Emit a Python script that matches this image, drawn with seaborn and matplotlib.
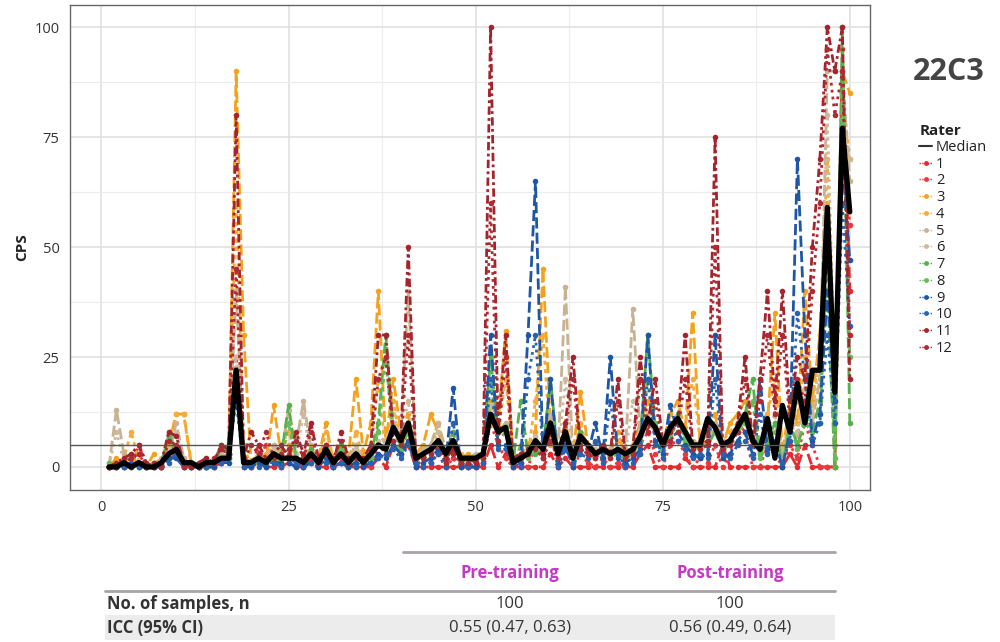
import matplotlib
matplotlib.use("Agg")
import matplotlib.pyplot as plt
from matplotlib.lines import Line2D
from matplotlib.patches import Rectangle
import seaborn as sns
import pandas as pd
import numpy as np

samples = list(range(1, 101))

r1 = [0,0,0,0,5,0,0,0,2,3, 0,0,0,0,0,1,5,25,0,0, 5,0,0,0,1,0,0,2,0,0, 0,1,0,0,0,0,2,0,5,3,
      5,0,0,0,0,0,0,0,0,0, 0,5,0,3,0,0,0,0,0,3, 0,2,0,0,0,0,0,0,0,0, 0,3,5,0,0,0,0,2,0,0,
      0,0,5,0,0,0,0,0,0,0, 0,3,0,5,0,0,0,0,95,40]
r2 = [0,1,0,2,3,0,1,0,5,4, 1,0,0,1,0,2,3,20,1,0, 2,5,1,0,3,1,0,4,0,2, 0,2,0,3,1,0,5,3,10,4,
      8,0,2,1,3,0,2,0,0,0, 1,10,5,2,0,1,0,5,2,8, 0,5,0,3,1,0,2,0,1,0, 2,5,8,3,0,5,6,3,0,2,
      1,5,0,3,10,8,0,0,5,3, 0,5,2,10,5,0,0,0,80,55]
r3 = [0,2,1,3,0,0,3,0,5,12, 12,1,0,0,1,2,3,90,30,1, 2,1,14,3,5,2,1,3,2,10, 1,5,2,20,3,10,40,5,20,8,
      12,3,5,12,8,3,5,2,3,1, 2,15,10,31,2,3,5,8,45,10, 2,10,3,17,5,2,5,3,8,2, 5,10,15,10,5,12,15,8,35,5,
      8,12,5,10,12,15,6,5,10,35, 3,15,10,40,15,30,60,0,90,85]
r4 = [1,0,2,8,1,0,1,0,6,12, 12,0,1,0,0,3,5,60,5,0, 1,3,5,2,8,3,2,5,1,8, 2,3,1,8,2,5,20,3,15,5,
      8,2,3,5,10,2,6,3,1,2, 3,10,8,20,3,2,3,15,30,5, 3,8,2,10,4,3,3,2,6,4, 4,8,12,9,6,10,10,9,20,6,
      5,10,6,8,10,12,8,4,12,20, 2,12,8,25,12,30,70,5,85,70]
r5 = [0,13,3,1,0,1,0,1,3,10, 2,0,1,0,1,2,3,40,2,1, 3,2,5,3,13,5,15,4,2,3, 1,4,2,5,1,3,8,5,10,6,
      40,3,4,5,10,4,8,2,2,3, 3,12,8,10,2,3,4,6,5,12, 3,41,2,8,5,3,5,4,3,3, 36,7,10,8,5,9,12,8,6,5,
      6,10,5,6,8,12,5,4,8,10, 3,10,7,15,10,20,90,90,90,65]
r6 = [0,8,1,0,1,0,0,2,4,8, 1,1,0,2,0,3,2,25,1,0, 2,1,4,2,10,3,12,3,1,5, 2,3,1,4,2,4,6,5,12,7,
      15,2,3,4,8,3,6,2,2,2, 4,14,9,8,1,2,3,7,4,10, 2,20,2,7,5,4,4,3,4,3, 15,8,12,9,5,8,10,7,5,6,
      7,9,6,5,9,10,6,3,9,12, 2,12,8,18,12,25,80,20,75,70]
r7 = [0,0,1,0,0,0,0,1,7,4, 1,0,0,0,1,5,3,22,2,1, 1,0,3,2,14,2,1,4,1,5, 0,5,1,3,1,3,10,30,8,5,
      10,1,3,4,6,3,8,1,2,2, 2,25,8,9,1,15,3,3,4,20, 3,6,2,8,5,3,5,3,4,2, 3,6,30,9,3,8,12,6,4,5,
      5,8,4,6,8,12,20,3,6,10, 0,10,5,10,8,15,40,0,100,10]
r8 = [1,0,0,1,0,0,1,0,8,3, 0,1,0,0,0,4,5,20,1,0, 2,1,2,1,10,2,1,3,0,4, 1,4,0,2,1,2,8,25,6,4,
      8,2,2,3,5,2,6,1,1,1, 2,20,6,8,0,5,2,4,3,10, 2,6,1,6,4,2,4,2,3,2, 3,6,20,10,4,7,10,6,5,4,
      5,8,4,5,8,10,15,2,5,8, 1,10,4,12,8,10,50,2,85,25]
r9 = [0,0,0,0,1,0,0,0,2,2, 0,0,0,0,0,1,1,20,0,0, 1,0,1,1,1,0,0,1,0,2, 0,1,0,1,0,1,3,2,5,3,
      6,0,1,2,4,1,18,0,0,0, 1,30,5,5,0,1,30,65,2,20, 1,5,0,4,3,10,2,25,2,1, 2,4,30,6,3,14,8,5,3,2,
      3,30,2,3,6,8,3,20,4,6, 0,8,70,30,6,12,40,15,70,47]
r10 = [0,0,0,1,0,0,0,0,1,3, 0,0,0,0,1,1,2,15,0,1, 0,1,1,0,2,1,0,1,1,1, 0,1,1,0,1,1,2,3,4,2,
       5,1,0,1,3,0,10,1,0,1, 1,20,4,4,1,0,20,30,3,10, 0,4,1,3,2,6,1,15,3,0, 1,3,20,5,2,10,6,4,2,3,
       2,20,3,2,5,6,2,12,3,5, 1,6,35,20,5,10,30,10,60,32]
r11 = [0,1,2,3,5,1,0,1,8,7, 1,0,1,2,1,5,4,80,2,8, 5,2,3,5,2,8,3,10,2,5, 1,8,2,3,2,5,30,30,8,6,
       50,2,3,4,6,2,4,1,2,1, 3,100,8,30,2,3,4,5,3,8, 3,10,25,5,4,3,5,3,20,3, 4,25,10,20,6,8,10,30,5,5,
       6,75,5,6,10,25,6,20,40,15, 40,12,25,20,50,70,100,90,100,20]
r12 = [0,0,1,2,3,0,1,0,6,5, 0,1,0,1,2,4,3,45,1,5, 3,8,2,3,4,6,2,8,1,3, 2,6,1,2,1,4,20,25,6,5,
       30,2,2,3,5,1,3,1,1,2, 2,60,6,25,1,2,3,4,2,6, 2,8,20,4,3,2,4,2,15,2, 3,20,8,15,5,6,8,20,4,4,
       5,50,4,5,8,20,5,15,30,12, 30,10,20,15,40,60,95,80,90,30]

median = [0,0,1,0,1,0,0,1,3,4, 1,1,0,1,1,2,2,22,1,1, 2,1,3,2,2,2,1,3,1,4, 1,3,1,3,1,3,5,4,9,6,
          10,2,3,4,6,3,6,2,2,2, 3,12,8,9,1,2,3,6,4,10, 3,8,2,7,5,3,4,3,4,3, 4,7,11,9,5,9,11,8,5,5,
          11,9,5,6,9,12,6,4,11,2, 14,8,19,10,22,22,59,17,77,58]

raters = ["1","2","3","4","5","6","7","8","9","10","11","12"]
series = [r1, r2, r3, r4, r5, r6, r7, r8, r9, r10, r11, r12]
colors = ["#E32A2E", "#E8393C", "#F4A21E", "#F5AC3A", "#C8B292", "#CDB99C",
          "#55B24A", "#66BC58", "#1E56A6", "#2A62B0", "#A3242C", "#AE2B34"]
dash_list = [(4, 1.5), (1, 1.5), (4, 1.5), (1.5, 1.5), (4, 1.5), (1, 1.5),
             (4, 1.5), (1.5, 1.5), (4, 1.5), (1, 1.5), (3, 1.2, 1, 1.2), (1, 1.5)]

rows = []
for name, vals in zip(raters, series):
    for s, v in zip(samples, vals):
        rows.append({"Sample": s, "CPS": v, "Rater": name})
df = pd.DataFrame(rows)
med_df = pd.DataFrame({"Sample": samples, "CPS": median})

sns.set_theme(style="whitegrid")
plt.rcParams['font.family'] = ['Open Sans', 'DejaVu Sans']

fig = plt.figure(figsize=(10, 6.42), dpi=100)
ax = fig.add_axes([0.07, 0.237, 0.80, 0.755])

palette = dict(zip(raters, colors))
dashes = dict(zip(raters, dash_list))
sns.lineplot(data=df, x="Sample", y="CPS", hue="Rater", style="Rater",
             palette=palette, dashes=dashes, markers=["o"] * 12, markersize=4,
             markeredgewidth=0, linewidth=2.0, legend=False, ax=ax, hue_order=raters,
             style_order=raters)
sns.lineplot(data=med_df, x="Sample", y="CPS", color="black", linewidth=3.8, ax=ax)
ax.axhline(5, color="#555555", linewidth=1.0, zorder=5)

ax.set_xlim(-4.2, 102.7)
ax.set_ylim(-5.2, 105)
ax.set_xticks([0, 25, 50, 75, 100])
ax.set_yticks([0, 25, 50, 75, 100])
ax.set_xticks([12.5, 37.5, 62.5, 87.5], minor=True)
ax.set_yticks([12.5, 37.5, 62.5, 87.5], minor=True)
ax.grid(which="major", color="#e0e0e0", linewidth=1.2)
ax.grid(which="minor", color="#ececec", linewidth=0.8)
ax.set_facecolor("white")
for sp in ax.spines.values():
    sp.set_color("#666666")
    sp.set_linewidth(1.0)
ax.tick_params(axis="both", which="major", labelsize=10.5, colors="#333333",
               length=4, width=0.8, color="#555555", direction="out")
ax.tick_params(axis="both", which="minor", length=0)
ax.tick_params(axis="x", pad=3)
ax.set_xlabel("")
ax.set_ylabel("CPS", fontsize=11, fontweight="bold", color="#222222", labelpad=4)

# Title on right
fig.text(0.949, 0.888, "22C3", fontsize=22, fontweight="bold", color="#444444",
         ha="center", va="center")

# Legend
handles = [Line2D([0], [0], color="#333333", linewidth=1.5, label="Median")]
for name, c in zip(raters, colors):
    handles.append(Line2D([0], [0], color=c, linewidth=1.0, linestyle=(0, (1, 1)),
                          marker="o", markersize=3.5, markeredgewidth=0, label=name))
leg = fig.legend(handles=handles, loc="upper left", bbox_to_anchor=(0.912, 0.818),
                 frameon=False, title="Rater", fontsize=10.5, handlelength=0.9,
                 handletextpad=0.25, labelspacing=0.12, borderpad=0, alignment="left")
leg.get_title().set_fontweight("bold")
leg.get_title().set_fontsize(11)
leg.get_title().set_color("#222222")
for t in leg.get_texts():
    t.set_color("#222222")

# Table below
tfont = ['Liberation Sans Narrow', 'Open Sans', 'DejaVu Sans']
fig.add_artist(Line2D([0.403, 0.835], [0.140, 0.140], color="#aaa2aa", linewidth=2.0))
fig.text(0.51, 0.107, "Pre-training", color="#C43AC4", fontsize=12, fontweight="bold",
         ha="center", va="center", family=tfont)
fig.text(0.73, 0.107, "Post-training", color="#C43AC4", fontsize=12, fontweight="bold",
         ha="center", va="center", family=tfont)
fig.add_artist(Line2D([0.105, 0.835], [0.0794, 0.0794], color="#aaa2aa", linewidth=2.0))
fig.add_artist(Rectangle((0.105, 0.003), 0.73, 0.039, transform=fig.transFigure,
                         facecolor="#ececec", edgecolor="none"))
fig.text(0.107, 0.059, "No. of samples, n", color="#333333", fontsize=12, fontweight="bold",
         ha="left", va="center", family=tfont)
fig.text(0.51, 0.059, "100", color="#333333", fontsize=12, ha="center", va="center", family=tfont)
fig.text(0.73, 0.059, "100", color="#333333", fontsize=12, ha="center", va="center", family=tfont)
fig.text(0.107, 0.022, "ICC (95% CI)", color="#333333", fontsize=12, fontweight="bold",
         ha="left", va="center", family=tfont)
fig.text(0.51, 0.022, "0.55 (0.47, 0.63)", color="#333333", fontsize=12, ha="center",
         va="center", family=tfont)
fig.text(0.73, 0.022, "0.56 (0.49, 0.64)", color="#333333", fontsize=12, ha="center",
         va="center", family=tfont)

fig.savefig("out.png", dpi=100)
